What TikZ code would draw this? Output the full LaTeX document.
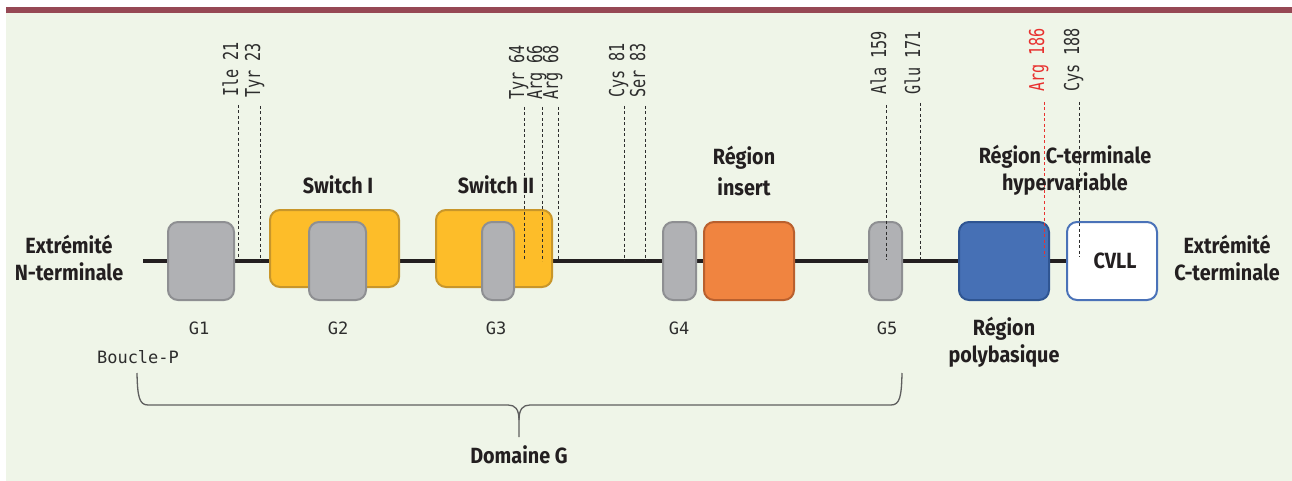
\documentclass[tikz,border=0pt]{standalone}
\usepackage{fontspec}
\newfontfamily\bfam{Fira Sans}[FakeStretch=0.9]
\newfontfamily\lfam{DejaVu Sans Mono}
\newfontfamily\rfam{DejaVu Sans Mono}[FakeStretch=0.74]
\pgfdeclarelayer{bg}
\pgfdeclarelayer{mid}
\pgfsetlayers{bg,mid,main}
\definecolor{bgc}{RGB}{239,245,232}
\definecolor{barc}{RGB}{150,72,84}
\definecolor{ink}{RGB}{35,31,32}
\definecolor{ink2}{RGB}{45,45,45}
\definecolor{grayf}{RGB}{176,177,180}
\definecolor{grayd}{RGB}{142,143,146}
\definecolor{yelf}{RGB}{253,189,41}
\definecolor{yeld}{RGB}{200,150,42}
\definecolor{oraf}{RGB}{240,132,64}
\definecolor{orad}{RGB}{185,96,46}
\definecolor{bluf}{RGB}{70,112,181}
\definecolor{blud}{RGB}{47,85,146}
\definecolor{cvld}{RGB}{74,114,184}
\definecolor{redl}{RGB}{232,49,47}
\definecolor{brcc}{RGB}{95,95,95}
\begin{document}
\begin{tikzpicture}[x=1pt,y=-1pt,
  box/.style={draw, line width=2pt, rounded corners=10pt, minimum height=78pt, inner sep=0pt},
  gbox/.style={box, fill=grayf, draw=grayd},
  ybox/.style={box, fill=yelf, draw=yeld, minimum height=77pt},
  obox/.style={box, fill=oraf, draw=orad},
  bbox/.style={box, fill=bluf, draw=blud},
  wbox/.style={box, fill=white, draw=cvld},
  bl/.style={font=\bfam\bfseries\fontsize{22}{27}\selectfont, text=ink, align=center, inner sep=0pt},
  gl/.style={font=\lfam\fontsize{17}{20}\selectfont, text=ink2, inner sep=0pt},
  rl/.style={font=\rfam\fontsize{20.5}{22}\selectfont, text=ink2, inner sep=0pt, rotate=90, anchor=base west},
  dsh/.style={dash pattern=on 3pt off 2.5pt, line width=1pt, draw=ink2},
  brc/.style={line width=1.3pt, draw=brcc},
]
\useasboundingbox (0,0) rectangle (1292,481);
\begin{pgfonlayer}{bg}
  \fill[white] (0,0) rectangle (1292,481);
  \fill[bgc] (6,13) rectangle (1292,481);
  \fill[barc] (6,7) rectangle (1292,13);
\end{pgfonlayer}

% boxes
\node[gbox, minimum width=66pt] (g1) at (201,261) {};
\node[ybox, minimum width=129pt] (sw1) at (334.5,248.5) {};
\node[gbox, minimum width=57pt] (g2) at (337.5,261) {};
\node[ybox, minimum width=116pt] (sw2) at (494,248.5) {};
\node[gbox, minimum width=32pt] (g3) at (498,261) {};
\node[gbox, minimum width=33pt] (g4) at (679.5,261) {};
\node[obox, minimum width=90pt] (ins) at (749,261) {};
\node[gbox, minimum width=33pt] (g5) at (885.5,261) {};
\node[bbox, minimum width=90pt] (poly) at (1004,261) {};
\node[wbox, minimum width=90pt, bl, text depth=0pt] (cvll) at (1112,261) {\hspace*{6pt}CVLL};

% main line
\coordinate (nstart) at (143,261);
\coordinate (axis) at (0,261);
\begin{pgfonlayer}{mid}
  \draw[line width=4pt, draw=ink] (nstart) -- (cvll.west);
\end{pgfonlayer}

% rotated residue labels
\node[rl] (r21) at (238,97) {Ile 21};
\node[rl] (r23) at (260,98) {Tyr 23};
\node[rl] (r64) at (524,100) {Tyr 64};
\node[rl] (r66) at (542,100) {Arg 66};
\node[rl] (r68) at (558,100) {Arg 68};
\node[rl] (r81) at (624,98) {Cys 81};
\node[rl] (r83) at (645,98) {Ser 83};
\node[rl] (r159) at (886,95) {Ala 159};
\node[rl] (r171) at (920,95) {Glu 171};
\node[rl, text=redl] (r186) at (1044,92) {Arg 186};
\node[rl] (r188) at (1079,92) {Cys 188};

\draw[dsh] ([yshift=-8pt]r21.base west) -- (r21.base west |- axis);
\draw[dsh] ([yshift=-8pt]r23.base west) -- (r23.base west |- axis);
\draw[dsh] ([yshift=-7pt]r64.base west) -- ([yshift=1pt]r64.base west |- axis);
\draw[dsh] ([yshift=-7pt]r66.base west) -- (r66.base west |- axis);
\draw[dsh] ([yshift=-7pt]r68.base west) -- (r68.base west |- axis);
\draw[dsh] ([yshift=-8pt]r81.base west) -- (r81.base west |- axis);
\draw[dsh] ([yshift=-8pt]r83.base west) -- (r83.base west |- axis);
\draw[dsh] ([yshift=-10pt]r159.base west) -- ([yshift=1pt]r159.base west |- axis);
\draw[dsh] ([yshift=-8pt]r171.base west) -- ([yshift=2pt]r171.base west |- axis);
\draw[dsh, draw=redl] ([yshift=-10pt]r186.base west) -- ([yshift=4pt]r186.base west |- axis);
\draw[dsh] ([yshift=-10pt]r188.base west) -- ([yshift=4pt]r188.base west |- axis);

% bold labels
\node[bl] (tsw1) at (338,185) {Switch I};
\node[bl] (tsw2) at (496,185) {Switch II};
\node[bl, font=\bfam\bfseries\fontsize{22}{31}\selectfont] (tins) at (744,171) {Région\\insert};
\node[bl] (thyp) at (1065,170) {Région C-terminale\\hypervariable};
\node[bl] (tpoly) at (1004,342) {Région\\polybasique};
\node[bl] (tn) at (69,258) {Extrémité\\N-terminale};
\node[bl] (tc) at (1227,258) {Extrémité\\C-terminale};
\node[bl] (tdom) at (519,455) {Domaine G};

% G labels
\node[gl] (lg1) at (199,328) {G1};
\node[gl] (lg2) at (338,328) {G2};
\node[gl] (lg3) at (496,328) {G3};
\node[gl] (lg4) at (679,328) {G4};
\node[gl] (lg5) at (887,328) {G5};
\node[gl] (lbp) at (138,357) {Boucle-P};

% brace
\draw[brc] (137,373) .. controls (137.5,396) and (139,405) .. (148,405) -- (508,405) .. controls (515,405) and (519,409) .. (519,420) -- (519,437);
\draw[brc] (902,373) .. controls (901.5,396) and (900,405) .. (891,405) -- (530,405) .. controls (523,405) and (519,409) .. (519,420);
\end{tikzpicture}
\end{document}
